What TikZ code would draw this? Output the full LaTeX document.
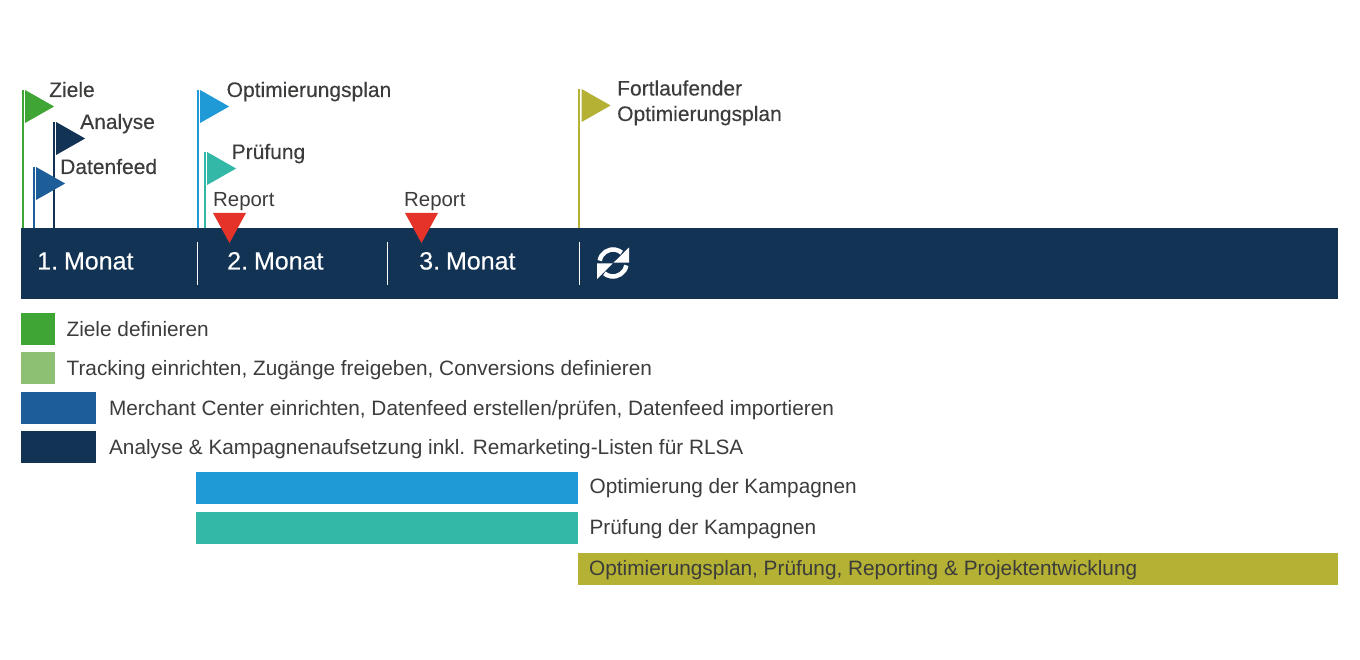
\documentclass[tikz,border=0pt]{standalone}
\usepackage{fontspec}
\setmainfont{Liberation Sans}
\newfontfamily\heavyfont[FakeBold=0.25]{Liberation Sans}
\usetikzlibrary{positioning}
\definecolor{navy}{HTML}{133354}
\definecolor{deepblue}{HTML}{1D5E99}
\definecolor{skyblue}{HTML}{1F9AD7}
\definecolor{teal2}{HTML}{33B8A7}
\definecolor{olive2}{HTML}{B4B134}
\definecolor{green2}{HTML}{3FA535}
\definecolor{lightgreen}{HTML}{8DC073}
\definecolor{redmark}{HTML}{E63329}
\definecolor{inktext}{HTML}{3C3C3B}
\tikzset{
  swatch/.style={fill=#1,inner sep=0pt,anchor=north west},
  caption/.style={inner sep=0pt,text=inktext,font=\fontsize{20.8}{24}\selectfont,text height=15pt,text depth=4pt},
  flagtext/.style={inner sep=0pt,text=inktext,font=\heavyfont\fontsize{21}{24}\selectfont,anchor=base west},
  reporttext/.style={flagtext,font=\fontsize{20.4}{24}\selectfont},
  monthtext/.style={inner sep=0pt,text=white,font=\heavyfont\fontsize{25}{30}\selectfont,anchor=base west},
  divider/.style={white,line width=1.6pt},
}
% one flag: x of pole, top of pole, colour
\newcommand{\flagmark}[3]{%
  \draw[#3,line width=2pt] (#1,#2) -- (#1,228);
  \fill[#3] (#1+2.6,#2) -- (#1+31.6,#2+16.5) -- (#1+2.6,#2+33) -- cycle;
}
\begin{document}
\begin{tikzpicture}[x=1pt,y=-1pt]
\useasboundingbox (0,0) rectangle (1360,660);
% flags
\flagmark{22.5}{90}{green2}
\flagmark{53.5}{122}{navy}
\flagmark{33.5}{167}{deepblue}
\flagmark{197.5}{90}{skyblue}
\flagmark{204.5}{152}{teal2}
\flagmark{579}{89}{olive2}
\node[flagtext] (ziele) at (49,97) {Ziele};
\node[flagtext] (analyse) at (80,129) {Analyse};
\node[flagtext] (datenfeed) at (60,174) {Datenfeed};
\node[flagtext] (optplan) at (226.5,97) {Optimierungsplan};
\node[flagtext] (pruefung) at (231.5,159) {Prüfung};
\node[flagtext] (fortlaufend) at (617,95.5) {Fortlaufender};
\node[flagtext] (fortplan) at (617,121) {Optimierungsplan};
\node[reporttext] (report1) at (213,207) {Report};
\node[reporttext] (report2) at (404,207) {Report};
% month bar
\node[swatch=navy,minimum width=1317pt,minimum height=70.5pt] (monthbar) at (21,228) {};
\fill[redmark] (213,213) -- (246,213) -- (229.5,243) -- cycle;
\fill[redmark] (405,213) -- (438,213) -- (421.5,243) -- cycle;
\foreach \x in {197.5,387.5,579.5}
  \draw[divider] (\x,242) -- (\x,285);
\node[monthtext] (m1) at (37,269.5) {1.\kern-1pt\ Monat};
\node[monthtext] (m2) at (227,269.5) {2.\kern-1pt\ Monat};
\node[monthtext] (m3) at (419,269.5) {3.\kern-1pt\ Monat};
% refresh icon
\draw[white,line width=4.5pt] (613,263) ++(190:13.5) arc (190:310:13.5);
\fill[white] (629,247.5) -- (629,262.7) -- (613.5,262.7) -- cycle;
\draw[white,line width=4.5pt] (613,263) ++(10:13.5) arc (10:130:13.5);
\fill[white] (597,279) -- (597,263.5) -- (612.5,263.5) -- cycle;
% legend
\node[swatch=green2,minimum width=34pt,minimum height=32pt] (zielebox) at (21,313) {};
\node[swatch=lightgreen,minimum width=34pt,minimum height=32pt] (trackbox) at (21,352) {};
\node[swatch=deepblue,minimum width=75pt,minimum height=32pt] (merchbox) at (21,392) {};
\node[swatch=navy,minimum width=75pt,minimum height=32pt] (kampbox) at (21,431) {};
\node[swatch=skyblue,minimum width=382pt,minimum height=32pt] (optbox) at (196,472) {};
\node[swatch=teal2,minimum width=382pt,minimum height=32pt] (pruefbox) at (196,512) {};
\node[swatch=olive2,minimum width=760pt,minimum height=32pt] (planbox) at (578,553) {};
\node[caption,right=11pt of zielebox,yshift=-1.5pt] (zieletext) {Ziele definieren};
\node[caption,right=11pt of trackbox,yshift=-1.5pt] (tracktext) {Tracking einrichten, Zugänge freigeben, Conversions definieren};
\node[caption,right=12.5pt of merchbox,yshift=-1.5pt] (merchtext) {Merchant Center einrichten, Datenfeed erstellen/prüfen, Datenfeed importieren};
\node[caption,right=12.5pt of kampbox,yshift=-1.5pt] (kamptext) {Analyse \& Kampagnenaufsetzung inkl. Remarketing-Listen für RLSA};
\node[caption,right=11pt of optbox] (opttext) {Optimierung der Kampagnen};
\node[caption,right=11pt of pruefbox,yshift=-1pt] (pruefext) {Prüfung der Kampagnen};
\node[caption,anchor=west,yshift=-1pt] (plantext) at ([xshift=11pt]planbox.west) {Optimierungsplan, Prüfung, Reporting \& Projektentwicklung};
\end{tikzpicture}
\end{document}
